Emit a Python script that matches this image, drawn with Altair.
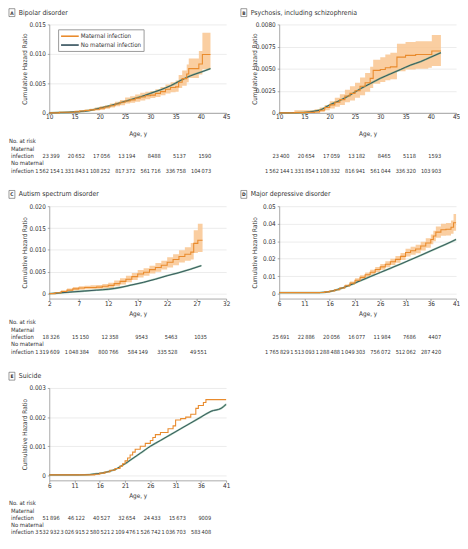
import altair as alt
import pandas as pd

FONT = "Liberation Sans Narrow, DejaVu Sans Condensed, Roboto Condensed, Arial Narrow, Liberation Sans, sans-serif"
ORANGE = "#E98B2D"
BAND = "#F9C691"
DARK = "#2D4B57"
GREEN = "#6AA882"
TXT = "#333333"
AX = "#858585"
SERIES = ["Maternal infection", "No maternal infection"]

# ---------------- Panel A: Bipolar disorder ----------------
A_m_age = [10, 12, 14, 15, 16, 17, 18, 19, 20, 21, 22, 23, 24, 25, 26, 27, 28, 29, 30, 31, 32, 33, 34, 35, 35.6, 36.3, 37.2, 37.6, 39.6, 40.3, 41.9]
A_m = [0, 0.0001, 0.0001, 0.0002, 0.0003, 0.0004, 0.0005, 0.0006, 0.0008, 0.001, 0.0012, 0.0015, 0.0018, 0.002, 0.0022, 0.0025, 0.0027, 0.0029, 0.003, 0.0033, 0.0036, 0.004, 0.0043, 0.0044, 0.0052, 0.0058, 0.0066, 0.0075, 0.0083, 0.0099, 0.0099]
A_lo = [0, 0, 0, 0, 0.0001, 0.0002, 0.0003, 0.0004, 0.0005, 0.0007, 0.0009, 0.0011, 0.0013, 0.0016, 0.0017, 0.0019, 0.0021, 0.0023, 0.0025, 0.0027, 0.003, 0.0033, 0.0035, 0.0036, 0.0042, 0.0046, 0.0052, 0.0059, 0.0065, 0.0074, 0.0074]
A_hi = [0.0001, 0.0002, 0.0003, 0.0004, 0.0005, 0.0006, 0.0007, 0.0009, 0.0011, 0.0013, 0.0016, 0.0019, 0.0022, 0.0026, 0.0028, 0.0031, 0.0034, 0.0036, 0.0037, 0.004, 0.0044, 0.0048, 0.0052, 0.0055, 0.0064, 0.0072, 0.0082, 0.0092, 0.0105, 0.0136, 0.0136]
A_n_age = [10, 12, 14, 16, 18, 20, 22, 24, 26, 28, 30, 32, 34, 36, 38, 40, 41.9]
A_n = [0, 0.00005, 0.0001, 0.0002, 0.0004, 0.0008, 0.0012, 0.0017, 0.0022, 0.0027, 0.0033, 0.0039, 0.0046, 0.0055, 0.0063, 0.0069, 0.0075]
A_risk_age = [10, 15, 20, 25, 30, 35, 40]
A_risk_m = [23399, 20652, 17056, 13194, 8488, 5137, 1590]
A_risk_n = [1562154, 1331843, 1108252, 817372, 561716, 336758, 104073]

# ---------------- Panel B: Psychosis ----------------
B_m_age = [10, 13, 15, 17, 18, 19, 20, 21, 22, 23, 24, 25, 26, 27, 28, 28.6, 30, 31, 32, 33.3, 35, 37, 39.5, 40.2, 42]
B_m = [0, 0.00003, 0.00005, 0.0001, 0.0003, 0.0006, 0.0009, 0.0012, 0.0015, 0.0019, 0.0022, 0.0025, 0.003, 0.0034, 0.0039, 0.0048, 0.0049, 0.0051, 0.0052, 0.0063, 0.0065, 0.0066, 0.0066, 0.007, 0.007]
B_lo = [0, 0, 0, 0, 0.0001, 0.0003, 0.0005, 0.0007, 0.0009, 0.0012, 0.0014, 0.0017, 0.002, 0.0024, 0.0028, 0.0033, 0.0035, 0.0037, 0.0038, 0.0047, 0.0049, 0.005, 0.0051, 0.0053, 0.0053]
B_hi = [0.0001, 0.0003, 0.0003, 0.0004, 0.0006, 0.0009, 0.0013, 0.0017, 0.0021, 0.0026, 0.003, 0.0034, 0.004, 0.0045, 0.0052, 0.006, 0.0063, 0.0066, 0.0068, 0.0078, 0.008, 0.0081, 0.0081, 0.0088, 0.0088]
B_n_age = [10, 12, 14, 16, 17, 18, 20, 22, 24, 26, 28, 30, 32, 34, 36, 38, 40, 42]
B_n = [0, 0, 0.00002, 0.0001, 0.0002, 0.0003, 0.0009, 0.0014, 0.002, 0.0027, 0.0033, 0.0039, 0.0044, 0.0049, 0.0054, 0.0058, 0.0063, 0.0068]
B_risk_age = [10, 15, 20, 25, 30, 35, 40]
B_risk_m = [23400, 20654, 17059, 13182, 8465, 5118, 1593]
B_risk_n = [1562144, 1331854, 1108332, 816941, 561044, 336320, 103903]

# ---------------- Panel C: Autism spectrum disorder ----------------
C_m_age = [2, 3, 4, 5, 6, 7, 8, 9, 10, 11, 12, 13, 14, 15, 16, 17, 18, 19, 20, 21, 22, 23, 24, 25, 26, 26.5, 27.2, 28]
C_m = [0, 0.0002, 0.0005, 0.0008, 0.0011, 0.0013, 0.0014, 0.0014, 0.0015, 0.0017, 0.0019, 0.0023, 0.0028, 0.0033, 0.0039, 0.0045, 0.0049, 0.0055, 0.006, 0.0065, 0.0072, 0.0078, 0.0085, 0.009, 0.0095, 0.0115, 0.0122, 0.0122]
C_lo = [0, 0, 0.0002, 0.0005, 0.0007, 0.0009, 0.001, 0.001, 0.0011, 0.0012, 0.0013, 0.0017, 0.0021, 0.0026, 0.0031, 0.0037, 0.0041, 0.0046, 0.005, 0.0055, 0.006, 0.0065, 0.0071, 0.0075, 0.0078, 0.0093, 0.0095, 0.0095]
C_hi = [0.0001, 0.0004, 0.0008, 0.0012, 0.0015, 0.0017, 0.0018, 0.0019, 0.002, 0.0022, 0.0025, 0.003, 0.0035, 0.0041, 0.0047, 0.0054, 0.0058, 0.0064, 0.007, 0.0075, 0.0083, 0.009, 0.0099, 0.0106, 0.0116, 0.0145, 0.016, 0.016]
C_n_age = [2, 4, 6, 8, 10, 12, 14, 16, 18, 20, 22, 24, 26, 27.8]
C_n = [0, 0.0002, 0.0004, 0.0006, 0.0008, 0.001, 0.0014, 0.002, 0.0026, 0.0033, 0.0041, 0.0048, 0.0056, 0.0064]
C_risk_age = [2, 7, 12, 17, 22, 27]
C_risk_m = [18326, 15150, 12358, 9543, 5463, 1035]
C_risk_n = [1319609, 1048384, 800766, 584149, 335528, 49551]

# ---------------- Panel D: Major depressive disorder ----------------
D_m_age = [6, 8, 10, 12, 14, 15, 16, 17, 18, 19, 20, 21, 22, 23, 24, 25, 26, 27, 28, 29, 30, 31, 32, 33, 34, 35, 36, 36.5, 37, 38, 39, 40, 40.5, 41]
D_m = [0.0006, 0.0006, 0.0006, 0.0006, 0.0007, 0.001, 0.0015, 0.0022, 0.0032, 0.0045, 0.006, 0.0077, 0.0093, 0.0108, 0.0122, 0.0138, 0.0153, 0.0168, 0.0182, 0.0196, 0.0213, 0.0235, 0.0245, 0.0255, 0.0272, 0.029, 0.031, 0.033, 0.0352, 0.0365, 0.0368, 0.038, 0.0405, 0.0405]
D_lo = [0.0005, 0.0005, 0.0005, 0.0005, 0.0006, 0.0008, 0.0012, 0.0018, 0.0027, 0.0038, 0.0051, 0.0066, 0.0081, 0.0095, 0.0108, 0.0123, 0.0137, 0.0151, 0.0164, 0.0177, 0.0193, 0.0213, 0.0222, 0.0231, 0.0247, 0.0263, 0.0282, 0.03, 0.032, 0.0331, 0.0332, 0.0342, 0.036, 0.036]
D_hi = [0.0007, 0.0007, 0.0007, 0.0007, 0.0008, 0.0012, 0.0018, 0.0026, 0.0037, 0.0052, 0.0069, 0.0088, 0.0105, 0.0121, 0.0136, 0.0153, 0.0169, 0.0185, 0.02, 0.0215, 0.0233, 0.0257, 0.0268, 0.0279, 0.0297, 0.0317, 0.0338, 0.036, 0.0384, 0.0399, 0.0404, 0.0418, 0.0455, 0.0455]
D_n_age = [6, 10, 14, 15, 16, 17, 18, 19, 20, 22, 24, 26, 28, 30, 32, 34, 36, 38, 40, 41]
D_n = [0.0006, 0.0006, 0.0006, 0.0008, 0.0012, 0.0019, 0.0028, 0.0038, 0.0049, 0.0073, 0.0097, 0.0121, 0.0145, 0.0169, 0.0194, 0.0219, 0.0245, 0.027, 0.0296, 0.031]
D_risk_age = [6, 11, 16, 21, 26, 31, 36]
D_risk_m = [25691, 22886, 20056, 16077, 11984, 7686, 4407]
D_risk_n = [1765829, 1513093, 1288488, 1049303, 756072, 512062, 287420]

# ---------------- Panel E: Suicide ----------------
E_m_age = [6, 14, 15, 16, 17, 18, 19, 20, 20.5, 21, 21.5, 22, 22.5, 23, 24, 25, 26, 26.5, 27, 28, 29.5, 30.5, 31, 32, 33, 34, 35, 35.5, 36.5, 37, 41]
E_m = [0.00002, 0.00002, 0.00004, 0.00008, 0.00012, 0.00018, 0.00024, 0.00032, 0.0004, 0.0005, 0.0006, 0.0007, 0.0008, 0.0009, 0.001, 0.0011, 0.0012, 0.0013, 0.0014, 0.00147, 0.0016, 0.0017, 0.0019, 0.00195, 0.002, 0.0021, 0.0023, 0.0024, 0.0025, 0.0026, 0.0026]
E_n_age = [6, 12, 14, 15, 16, 17, 18, 19, 20, 21, 22, 24, 26, 28, 30, 32, 34, 36, 38, 40, 41]
E_n = [0.00002, 0.00002, 0.00003, 0.00005, 0.00007, 0.0001, 0.00015, 0.0002, 0.0003, 0.0004, 0.00052, 0.00076, 0.001, 0.0012, 0.0014, 0.0016, 0.0018, 0.002, 0.0022, 0.0023, 0.00244]
E_risk_age = [6, 11, 16, 21, 26, 31, 36]
E_risk_m = [51896, 46122, 40527, 32654, 24433, 15673, 9009]
E_risk_n = [3532932, 3026915, 2580521, 2109476, 1526742, 1036703, 583408]


def fmt_count(n):
    return str(n) if n < 10000 else f"{n:,}".replace(",", "\u2009")


def panel(letter, title, xdom, xstep, ydom, yticks, ylabexpr, m_age, m_val, m_lo, m_hi,
          n_age, n_val, risk_age, risk_m, risk_n, height, xlabpad, xtitle_y, offs,
          left, box_x, legend):
    xs = alt.Scale(domain=xdom, nice=False, zero=False)
    ys = alt.Scale(domain=ydom, nice=False, zero=False)
    xticks = list(range(xdom[0], xdom[1] + 1, xstep))
    xaxis = alt.Axis(values=xticks, grid=False, domainColor=AX, domainWidth=0.7,
                     tickColor=AX, tickWidth=0.7, tickSize=2, labelPadding=xlabpad,
                     labelFontSize=6.5, labelColor=TXT, labelFlush=False,
                     title="Age, y", titleFontSize=6.5, titleFontWeight="normal",
                     titleColor=TXT, titleY=xtitle_y, titleBaseline="middle")
    yaxis = alt.Axis(values=yticks, labelExpr=ylabexpr, grid=True, gridColor="#E3E3E3",
                     gridWidth=0.7, domainColor=AX, domainWidth=0.7, tickColor=AX,
                     tickWidth=0.7, tickSize=2, labelPadding=2, labelFontSize=6.5,
                     labelColor=TXT, title="Cumulative Hazard Ratio", titleFontSize=6.5,
                     titleFontWeight="normal", titleColor=TXT, titleAngle=-90,
                     titleX=-25, titleY=height / 2, titleAlign="center",
                     titleBaseline="middle")
    X = alt.X("age:Q", scale=xs, axis=xaxis)
    cscale = alt.Scale(domain=SERIES, range=[ORANGE, DARK])
    if legend:
        leg = alt.Legend(title=None, orient="none", legendX=9, legendY=5,
                         labelFontSize=6.3, labelColor=TXT, symbolType="M-1,0H3.5",
                         symbolStrokeWidth=1.6, symbolSize=64, strokeColor="#9A9A9A",
                         fillColor="white", padding=2, rowPadding=0, labelOffset=11)
    else:
        leg = None
    C = alt.Color("series:N", scale=cscale, legend=leg)

    dm = pd.DataFrame({"age": m_age, "val": m_val, "series": SERIES[0]})
    dn = pd.DataFrame({"age": n_age, "val": n_val, "series": SERIES[1]})
    layers = []
    if m_lo is not None:
        db = pd.DataFrame({"age": m_age, "lo": m_lo, "hi": m_hi})
        layers.append(alt.Chart(db).mark_area(interpolate="step-after", color=BAND, opacity=0.85)
                      .encode(x=X, y=alt.Y("lo:Q", scale=ys, axis=yaxis), y2="hi:Q"))
    layers.append(alt.Chart(dn).mark_line(color=GREEN, strokeWidth=1.9, interpolate="monotone", opacity=0.75)
                  .encode(x=X, y=alt.Y("val:Q", scale=ys, axis=yaxis)))
    layers.append(alt.Chart(dn).mark_line(strokeWidth=0.9, interpolate="monotone")
                  .encode(x=X, y=alt.Y("val:Q", scale=ys, axis=yaxis), color=C))
    layers.append(alt.Chart(dm).mark_line(strokeWidth=1.1, interpolate="step-after")
                  .encode(x=X, y=alt.Y("val:Q", scale=ys, axis=yaxis), color=C))

    dr = pd.DataFrame({"age": risk_age,
                       "m": [fmt_count(v) for v in risk_m],
                       "n": [fmt_count(v) for v in risk_n]})
    Y0 = alt.YDatum(0, scale=ys, axis=yaxis)
    for col, off in (("m", offs[2]), ("n", offs[4])):
        layers.append(alt.Chart(dr).mark_text(align="right", baseline="middle", dx=10.5, dy=off,
                                              fontSize=5.7, color=TXT)
                      .encode(x=X, y=Y0, text=f"{col}:N"))
    if left:
        lab = pd.DataFrame({"t": ["No. at risk", "Maternal", "infection", "No maternal", "infection"],
                            "o": [0, 1, 2, 3, 4]})
        for i, xx in enumerate([-41, -39, -39, -39, -39]):
            layers.append(alt.Chart(lab).transform_filter(f"datum.o == {i}")
                          .mark_text(align="left", baseline="middle", dy=offs[i], fontSize=6,
                                     color=TXT)
                          .encode(x=alt.value(xx), y=Y0, text="t:N"))
    dt = pd.DataFrame({"letter": [letter], "title": [title]})
    layers.append(alt.Chart(dt).mark_rect(fill="white", stroke="#555555", strokeWidth=0.6)
                  .encode(x=alt.value(box_x), x2=alt.value(box_x + 6),
                          y=alt.value(-16), y2=alt.value(-8)))
    layers.append(alt.Chart(dt).mark_text(align="center", baseline="middle", fontSize=5,
                                          fontWeight="bold", color=TXT)
                  .encode(x=alt.value(box_x + 3), y=alt.value(-12), text="letter:N"))
    layers.append(alt.Chart(dt).mark_text(align="left", baseline="middle", fontSize=7,
                                          color=TXT)
                  .encode(x=alt.value(box_x + 10), y=alt.value(-12), text="title:N"))
    return alt.layer(*layers).properties(width=180, height=height)


OFF = [29, 37, 44, 51, 59]
OFF_E = [28.5, 36, 43, 50, 57.5]

pA = panel("A", "Bipolar disorder", [10, 45], 5, [0, 0.015], [0, 0.005, 0.01, 0.015],
           "datum.value == 0 ? '0' : format(datum.value, '.3f')",
           A_m_age, A_m, A_lo, A_hi, A_n_age, A_n, A_risk_age, A_risk_m, A_risk_n,
           90, -1.5, 21.5, OFF, True, -41, True)
pB = panel("B", "Psychosis, including schizophrenia", [10, 45], 5, [0, 0.01],
           [0, 0.0025, 0.005, 0.0075, 0.01],
           "datum.value == 0 ? '0' : (datum.value > 0.009 ? '0.0080' : format(datum.value, '.4f'))",
           B_m_age, B_m, B_lo, B_hi, B_n_age, B_n, B_risk_age, B_risk_m, B_risk_n,
           90, -1.5, 21.5, OFF, False, -39, False)
pC = panel("C", "Autism spectrum disorder", [2, 32], 5, [-0.02 * 5 / 89, 0.02],
           [0, 0.005, 0.01, 0.015, 0.02],
           "datum.value == 0 ? '0' : format(datum.value, '.3f')",
           C_m_age, C_m, C_lo, C_hi, C_n_age, C_n, C_risk_age, C_risk_m, C_risk_n,
           94, 0, 15.5, OFF, True, -41, False)
pD = panel("D", "Major depressive disorder", [6, 41], 5, [-0.05 * 5 / 89, 0.05],
           [0, 0.01, 0.02, 0.03, 0.04, 0.05],
           "datum.value == 0 ? '0' : format(datum.value, '.2f')",
           D_m_age, D_m, D_lo, D_hi, D_n_age, D_n, D_risk_age, D_risk_m, D_risk_n,
           94, 0, 15.5, OFF, False, -39, False)
pE = panel("E", "Suicide", [6, 41], 5, [-0.003 * 5 / 89, 0.003],
           [0, 0.001, 0.002, 0.003],
           "datum.value == 0 ? '0' : format(datum.value, '.3f')",
           E_m_age, E_m, None, None, E_n_age, E_n, E_risk_age, E_risk_m, E_risk_n,
           94, 0, 15.5, OFF_E, True, -41, False)

chart = (alt.concat(pA, pB, pC, pD, pE, columns=2, bounds="flush", align="all",
                    spacing={"row": 91, "column": 54})
         .resolve_scale(color="independent").resolve_legend(color="independent")
         .properties(padding={"left": 0, "top": -5, "right": 0, "bottom": 0},
                     autosize=alt.AutoSizeParams(type="pad"))
         .configure(font=FONT)
         .configure_view(stroke=None))

chart.save("out.html", embed_options={"renderer": "svg", "actions": False})
